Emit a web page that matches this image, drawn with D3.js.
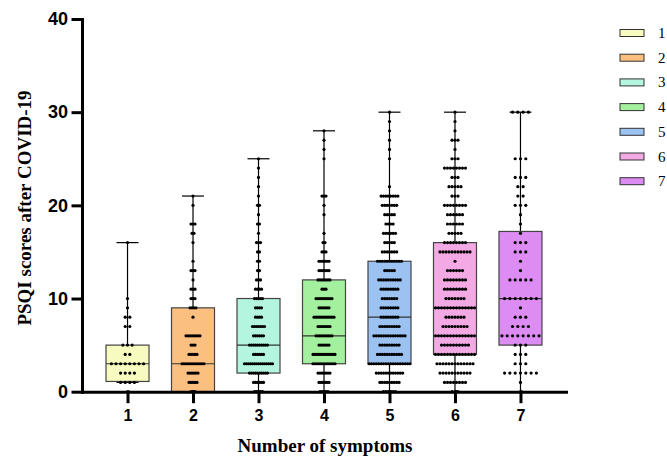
<!DOCTYPE html>
<meta charset="utf-8">
<head>
	<style>
		html, body {
			margin: 0;
			padding: 0;
			background-color: white;
		}
		.axis path, .axis line {
			stroke: black;
			stroke-width: 3;
			stroke-linecap: square;
		}
		.axis text {
			font-family: "Liberation Sans", Arial, sans-serif;
			font-weight: bold;
			fill: black;
		}
		.title {
			font-family: "Liberation Serif", "Times New Roman", serif;
			font-weight: bold;
			font-size: 19px;
			fill: black;
		}
		.legendText {
			font-family: "Liberation Serif", "Times New Roman", serif;
			font-size: 15px;
			fill: black;
		}
	</style>
	<script src="https://d3js.org/d3.v7.min.js"></script>
</head>
<body>
<script>

	// DATA
	var groups = ['1', '2', '3', '4', '5', '6', '7'];
	var scores = d3.range(0, 31);   // PSQI score of each count below

	// how many people have each score, per number of symptoms
	var counts1 = [0,4,4,8,2,3,0,2,2,1,1,0,0,0,0,0,1,0,0,0,0,0,0,0,0,0,0,0,0,0,0];
	var counts2 = [3,5,6,12,5,3,8,0,1,4,3,3,1,3,1,0,1,2,3,0,1,1,0,0,0,0,0,0,0,0,0];
	var counts3 = [5,6,10,15,6,10,6,7,4,4,5,4,3,2,2,2,3,1,2,1,2,1,1,1,1,1,0,0,0,0,0];
	var counts4 = [5,6,7,12,12,6,9,7,11,6,9,3,7,6,6,3,2,1,0,1,1,3,0,0,0,1,1,1,1,0,0];
	var counts5 = [6,9,12,18,11,9,14,9,8,8,7,8,10,5,11,7,5,6,4,5,7,8,1,0,0,1,1,1,1,1,1];
	var counts6 = [3,8,11,13,14,10,14,9,7,14,7,8,8,6,1,11,8,5,6,6,8,3,5,3,8,3,1,3,1,1,1];
	var counts7 = [0,1,7,3,3,3,8,4,3,1,7,0,5,1,1,3,3,1,1,1,3,2,2,3,0,3,0,0,0,0,4];

	// box plot summary
	var boxMin    = [1, 0, 0, 0, 0, 0, 0];
	var boxQ1     = [1.1, 0, 2, 3, 3, 4, 5];
	var boxMedian = [3, 3, 5, 6, 8, 9, 10];
	var boxQ3     = [5, 9, 10, 12, 14, 16, 17.2];
	var boxMax    = [16, 21, 25, 28, 30, 30, 30];

	var yTicks = [0, 10, 20, 30, 40];

	// STYLE
	var colors = ['#f7fbbf', '#fbbf80', '#b3f5df', '#a3f09e', '#9cc2f2', '#f3aae4', '#dc8cf2'];
	var dotGap = [4.6, 2, 2, 2, 2.4, 3, 5.3];   // horizontal spacing of the scatter per column
	var allCounts = [counts1, counts2, counts3, counts4, counts5, counts6, counts7];

	// SETUP
	var width = 667, height = 457,
		boxWidth = 43, capWidth = 22, dotR = 1.6;

	var x = d3.scalePoint()
		.domain(groups)
		.range([82, 566])
		.padding(0.695);

	var y = d3.scaleLinear()
		.domain([0, 40])
		.range([391.7, 19]);

	var svg = d3.select('body')
		.append('svg')
		.attr('width', width)
		.attr('height', height);

	var plot = svg.append('g');

	// BOXES
	groups.forEach(function(gName, i) {
		var cx = x(gName);
		var g = plot.append('g');

		// whiskers
		g.append('line')
			.attr('x1', cx).attr('x2', cx)
			.attr('y1', y(boxQ3[i])).attr('y2', y(boxMax[i]))
			.attr('stroke', 'black').attr('stroke-width', 1.2);
		g.append('line')
			.attr('x1', cx).attr('x2', cx)
			.attr('y1', y(boxQ1[i])).attr('y2', y(boxMin[i]))
			.attr('stroke', 'black').attr('stroke-width', 1.2);
		[boxMax[i], boxMin[i]].forEach(function(v) {
			g.append('line')
				.attr('x1', cx - capWidth / 2).attr('x2', cx + capWidth / 2)
				.attr('y1', y(v)).attr('y2', y(v))
				.attr('stroke', 'black').attr('stroke-width', 1.2);
		});

		// box
		g.append('rect')
			.attr('x', cx - boxWidth / 2)
			.attr('width', boxWidth)
			.attr('y', y(boxQ3[i]))
			.attr('height', y(boxQ1[i]) - y(boxQ3[i]))
			.attr('fill', colors[i])
			.attr('stroke', '#444')
			.attr('stroke-width', 1.2);

		// median
		g.append('line')
			.attr('x1', cx - boxWidth / 2).attr('x2', cx + boxWidth / 2)
			.attr('y1', y(boxMedian[i])).attr('y2', y(boxMedian[i]))
			.attr('stroke', '#333').attr('stroke-width', 1.2);

		// scatter: one row of dots per score, centred on the column
		var dots = [];
		allCounts[i].forEach(function(c, k) {
			for (var j = 0; j < c; j++) {
				dots.push({ score: scores[k], off: (j - (c - 1) / 2) * dotGap[i] });
			}
		});

		g.selectAll('.dot')
			.data(dots)
			.enter().append('circle')
			.attr('class', 'dot')
			.attr('cx', function(d) { return cx + d.off; })
			.attr('cy', function(d) { return y(d.score); })
			.attr('r', dotR)
			.attr('fill', 'black');
	});

	// AXES
	svg.append('g')
		.attr('class', 'axis')
		.attr('transform', 'translate(82,0)')
		.call(d3.axisLeft(y).tickValues(yTicks).tickSize(9).tickSizeOuter(0).tickPadding(5))
		.selectAll('text')
		.attr('font-size', '18px');

	svg.append('g')
		.attr('class', 'axis')
		.attr('transform', 'translate(0,' + y(0) + ')')
		.call(d3.axisBottom(x).tickSize(10).tickSizeOuter(0).tickPadding(8))
		.selectAll('text')
		.attr('font-size', '16px');

	// TITLES
	svg.append('text')
		.attr('class', 'title')
		.attr('text-anchor', 'middle')
		.attr('x', 325)
		.attr('y', 452)
		.text('Number of symptoms');

	svg.append('text')
		.attr('class', 'title')
		.attr('text-anchor', 'middle')
		.attr('font-size', '20px')
		.attr('transform', 'translate(31,208) rotate(-90)')
		.text('PSQI scores after COVID-19');

	// LEGEND
	var legend = svg.selectAll('.legend')
		.data(groups)
		.enter().append('g')
		.attr('class', 'legend')
		.attr('transform', function(d, i) { return 'translate(620,' + (33 + i * 24.7) + ')'; });

	legend.append('rect')
		.attr('x', 0)
		.attr('y', -3.5)
		.attr('width', 24)
		.attr('height', 7)
		.attr('fill', function(d, i) { return colors[i]; })
		.attr('stroke', '#333')
		.attr('stroke-width', 1);

	legend.append('text')
		.attr('class', 'legendText')
		.attr('x', 38)
		.attr('y', 5)
		.text(function(d) { return d; });

</script>
</body>
